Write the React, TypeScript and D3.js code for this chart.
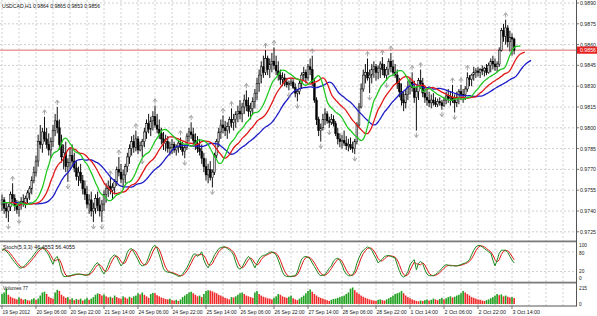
import React from 'react';
import * as d3 from 'd3';

// ---------- DATA (prices in pips, 9745 = 0.9745) ----------
const highs = [
  9752,9750,9746,9745,9754,9760,9752,9748,9747,9750,9752,9751,9755,9758,
  9765,9772,9780,9795,9802,9800,9808,9800,9796,9793,9802,9810,9815,9806,9795,9788,9790,9778,9786,9788,
  9782,9776,9772,9774,9766,9762,9758,9752,9754,9746,9752,9754,9750,9748,9755,9760,9762,
  9764,9760,9763,9772,9779,9774,9770,9774,9782,
  9788,9794,9795,9798,9794,9790,9792,9800,9806,9810,9808,9812,9816,9810,9806,
  9800,9797,9795,9794,9790,9792,9790,9788,9791,9793,9790,9788,9796,9800,9804,9800,9796,9794,
  9792,9788,9782,9778,9774,9776,9770,9782,9792,9800,9806,9809,9805,9804,9808,9814,9810,9812,
  9816,9820,9818,9824,9827,9822,9818,9822,9828,9836,9842,9848,9852,9856,9852,9850,9854,9858,9852,9848,
  9842,9840,9839,9836,9834,9836,9835,9832,9828,9834,9840,9844,9842,9846,9850,9852,9836,9822,9808,9803,
  9810,9814,9812,9808,9810,9809,9805,9800,9796,9795,9798,9794,9792,9793,9790,9792,
  9804,9818,9832,9842,9846,9850,9842,9846,9848,9846,9845,9848,9851,9846,9844,9850,9854,9849,9846,
  9842,9836,9832,9826,9828,9834,9836,9840,9834,9830,9836,9842,9836,9830,9828,
  9826,9824,9825,9822,9821,9822,9820,9822,9826,9828,9826,9831,9824,9826,9828,9831,9828,9830,9840,9838,
  9839,9844,9843,9844,9843,9845,9844,9846,9847,9850,9852,9850,9848,9858,9872,9875,9878,9874,9870,9868,9865,
];
const lows = [
  9740,9738,9735,9732,9740,9746,9740,9738,9736,9741,9743,9742,9745,9748,
  9752,9760,9765,9772,9785,9782,9790,9785,9780,9778,9786,9794,9796,9784,9775,9770,9768,9761,9770,9772,
  9768,9762,9758,9760,9752,9748,9742,9738,9736,9732,9738,9740,9736,9732,9740,9746,9750,
  9752,9748,9752,9758,9765,9760,9756,9760,9768,
  9774,9780,9782,9783,9781,9783,9779,9786,9792,9796,9794,9798,9800,9796,9792,
  9788,9784,9783,9782,9780,9781,9782,9780,9782,9784,9780,9778,9784,9790,9792,9788,9784,9782,
  9780,9774,9768,9762,9760,9762,9757,9766,9778,9786,9792,9796,9794,9792,9796,9800,9798,9800,
  9804,9806,9804,9810,9812,9808,9806,9810,9814,9820,9826,9832,9836,9838,9838,9836,9840,9842,9838,9834,
  9831,9830,9830,9829,9827,9830,9828,9822,9819,9824,9828,9834,9832,9834,9838,9830,9818,9802,9794,9790,
  9798,9802,9803,9800,9802,9801,9794,9788,9786,9785,9787,9784,9783,9784,9782,9781,
  9788,9800,9814,9826,9832,9834,9825,9832,9836,9834,9835,9836,9838,9836,9834,9838,9840,9838,9836,
  9828,9822,9816,9812,9814,9820,9824,9826,9818,9798,9820,9828,9822,9818,9816,
  9815,9814,9816,9815,9815,9816,9813,9815,9817,9818,9816,9818,9811,9815,9817,9820,9818,9820,9826,9830,
  9830,9834,9836,9837,9836,9838,9837,9838,9839,9840,9842,9841,9840,9844,9855,9862,9860,9858,9855,9852,9853,
];
const closes = [
  9748,9742,9740,9743,9752,9749,9744,9741,9745,9747,9746,9749,9753,9756,
  9762,9768,9776,9790,9788,9797,9792,9788,9784,9790,9798,9805,9800,9788,9779,9782,9772,9775,9780,9776,
  9771,9765,9768,9762,9756,9752,9745,9748,9740,9742,9749,9744,9740,9745,9752,9756,9758,
  9755,9757,9761,9770,9768,9763,9766,9772,9779,
  9785,9790,9786,9792,9784,9787,9790,9797,9803,9799,9805,9808,9802,9799,9796,
  9792,9789,9790,9785,9786,9788,9784,9786,9789,9786,9783,9786,9794,9797,9795,9791,9788,9785,
  9783,9778,9772,9766,9770,9764,9768,9780,9790,9797,9802,9800,9798,9801,9806,9804,9806,9810,
  9812,9810,9815,9820,9816,9812,9814,9819,9825,9832,9838,9844,9840,9850,9842,9846,9848,9845,9841,9838,
  9835,9836,9833,9831,9832,9833,9829,9825,9826,9832,9838,9840,9836,9844,9842,9832,9820,9806,9798,9800,
  9806,9810,9805,9804,9806,9803,9796,9792,9790,9791,9789,9787,9788,9786,9785,9790,
  9802,9815,9828,9838,9840,9836,9838,9842,9844,9840,9843,9846,9842,9838,9842,9848,9844,9840,9838,
  9832,9826,9820,9818,9824,9830,9833,9829,9822,9826,9834,9832,9825,9822,9820,
  9818,9820,9818,9817,9819,9818,9816,9820,9823,9821,9822,9820,9818,9822,9826,9824,9824,9828,9836,9835,
  9838,9840,9841,9840,9842,9841,9843,9840,9845,9848,9846,9844,9846,9856,9870,9866,9872,9862,9865,9864,9856,
];
const firstOpen = 9745;

const volumes = [
  130,150,200,120,95,80,70,60,85,70,55,65,50,45,60,75,55,70,
  110,150,160,130,95,80,70,
  150,185,170,120,100,80,90,60,75,50,65,
  55,70,45,60,80,55,70,90,120,140,130,
  110,125,100,85,95,80,110,90,75,70,100,85,70,95,
  80,100,110,140,125,150,120,100,80,130,145,140,115,100,85,
  75,65,60,70,50,45,55,40,60,90,110,130,150,
  160,140,120,100,110,90,130,170,180,175,165,150,
  140,120,110,95,80,70,60,90,85,100,120,140,150,130,110,
  100,90,80,150,170,130,110,95,85,75,70,60,80,100,130,
  120,100,90,80,95,110,75,60,50,70,
  90,110,140,170,190,160,130,110,90,80,70,60,50,40,55,65,70,80,90,100,
  110,130,150,200,215,180,150,130,110,95,80,70,60,50,45,
  40,55,60,50,45,60,75,90,110,130,140,150,170,140,110,
  90,75,60,50,40,35,45,40,50,60,45,55,70,60,50,
  65,80,60,75,90,100,85,95,110,120,140,170,150,130,110,
  90,80,70,60,55,45,40,50,60,75,90,110,130,115,125,100,110,95,85,90,77,
];

const stochMain = [
  85,88,82,75,66,56,48,40,32,30,34,39,47,55,62,71,80,88,91,92,
  87,80,70,55,42,60,66,45,18,5,4,6,7,9,11,12,12,11,10,8,
  9,12,22,32,42,47,35,22,12,25,41,58,66,71,64,50,37,45,58,80,
  88,90,80,68,56,42,37,40,47,64,82,95,100,90,71,50,28,20,18,17,
  15,12,9,5,6,12,22,31,45,58,72,74,66,72,80,55,40,31,45,55,
  71,80,90,93,95,95,90,86,80,70,48,31,27,33,46,58,66,58,45,31,
  45,58,66,69,71,75,79,80,76,71,55,37,18,7,5,4,5,6,7,18,
  40,58,64,66,63,58,46,35,24,12,7,8,10,20,30,37,52,58,61,53,
  40,22,12,7,7,10,22,45,62,76,85,90,95,92,85,72,60,46,52,58,
  66,68,69,66,64,61,40,22,7,3,8,20,40,50,56,25,45,51,44,25,
  12,7,7,7,11,16,22,30,36,41,39,37,38,37,37,39,41,44,46,50,
  56,71,85,95,99,100,95,90,85,80,76,55,37,55,76,85,85,85,78,66,
  55,46,
];

const upFractals = [5,20,26,51,55,63,72,84,89,104,108,115,124,128,146,172,179,183,193,197,212,216,219,237];
const downFractals = [3,8,31,43,47,66,86,99,135,139,150,154,166,173,181,195,207,213];

const priceTicks = [0.9890,0.9875,0.9860,0.9845,0.9830,0.9815,0.9800,0.9785,0.9770,0.9755,0.9740,0.9725];
const dateLabels = ['19 Sep 2012','20 Sep 06:00','20 Sep 22:00','21 Sep 14:00','24 Sep 06:00','24 Sep 22:00','25 Sep 14:00','26 Sep 06:00','26 Sep 22:00','27 Sep 14:00','28 Sep 06:00','28 Sep 22:00','1 Oct 14:00','2 Oct 06:00','2 Oct 22:00','3 Oct 14:00'];
const title = 'USDCAD,H1  0.9864 0.9865 0.9853 0.9856';
const stochTitle = 'Stoch(5,3,3) 46.4553 56.4055';
const volTitle = 'Volumes 77';
const bid = 0.9856;

// ---------- LAYOUT ----------
const W = 597, H = 316;
const AX = 576; // right axis x
const FONT = 'Liberation Sans, Arial, sans-serif';

const x = d3.scaleLinear().domain([0, 240]).range([2, 512]);
const yP = d3.scaleLinear().domain([0.9725, 0.9890]).range([231.8, 3]);
const yS = d3.scaleLinear().domain([0, 100]).range([278, 245.3]);
const yV = d3.scaleLinear().domain([0, 215]).range([304, 287.5]);

function smma(src: number[], n: number) {
  const out: number[] = [];
  let prev = src[0];
  src.forEach((v, i) => {
    prev = i === 0 ? v : (prev * (n - 1) + v) / n;
    out.push(prev);
  });
  return out;
}

function T(props: { x: number; y: number; w: number; fill?: string; children: string }) {
  return (
    <text x={props.x} y={props.y} fontSize={5.6} fill={props.fill || '#222'}
      textLength={props.w} lengthAdjust="spacingAndGlyphs">{props.children}</text>
  );
}

export default function App() {
  const n = closes.length;
  const opens = closes.map((c, i) => (i === 0 ? firstOpen : closes[i - 1]));
  const median = highs.map((h, i) => (h + lows[i]) / 2 / 10000);
  const jaw = smma(median, 13), teeth = smma(median, 8), lips = smma(median, 5);
  const shifted = (s: number[], sh: number) => {
    const pts: [number, number][] = [];
    for (let k = 0; k < n + sh; k++) pts.push([x(k), yP(s[Math.max(0, k - sh)])]);
    return pts;
  };
  const line = d3.line().curve(d3.curveMonotoneX);
  const signal = stochMain.map((v, i) => {
    const a = stochMain.slice(Math.max(0, i - 2), i + 1);
    return d3.mean(a) as number;
  });
  const stochLine = d3.line<number>().x((_, i) => x(i)).y((v) => yS(v));

  const vgrid: number[] = [];
  for (let i = 0; x(i) < AX; i += 8) vgrid.push(x(i));
  const grid = '#c4c4c4';

  return (
    <svg width={W} height={H} style={{ position: 'fixed', left: 0, top: 0, background: '#fff' }} fontFamily={FONT}>
      <rect x={0} y={0} width={W} height={H} fill="#fff" />
      {/* grids */}
      {vgrid.map((gx, i) => (
        <line key={'vg' + i} x1={gx} x2={gx} y1={0} y2={306} stroke={grid} strokeWidth={0.8} strokeDasharray="2,2" />
      ))}
      {priceTicks.map((p) => (
        <line key={'hg' + p} x1={0} x2={AX} y1={yP(p)} y2={yP(p)} stroke={grid} strokeWidth={0.8} strokeDasharray="2,2" />
      ))}
      {[20, 80].map((v) => (
        <line key={'sg' + v} x1={0} x2={AX} y1={yS(v)} y2={yS(v)} stroke={grid} strokeWidth={0.8} strokeDasharray="2,2" />
      ))}
      {/* bid line */}
      <line x1={0} x2={AX} y1={yP(bid)} y2={yP(bid)} stroke="#e06a6a" strokeWidth={1} />

      {/* candles */}
      {closes.map((c, i) => {
        const o = opens[i];
        const hi = Math.max(highs[i], o, c) / 10000, lo = Math.min(lows[i], o, c) / 10000;
        const cx = x(i);
        const top = yP(Math.max(o, c) / 10000), bot = yP(Math.min(o, c) / 10000);
        const bull = c > o;
        return (
          <g key={'c' + i}>
            <line x1={cx} x2={cx} y1={yP(hi)} y2={yP(lo)} stroke="#111" strokeWidth={1} />
            <rect x={cx - 0.9} y={top} width={1.8} height={Math.max(0.7, bot - top)}
              fill={bull ? '#cfcfcf' : '#000'} stroke="#000" strokeWidth={0.5} />
          </g>
        );
      })}

      {/* alligator */}
      <path d={line(shifted(jaw, 8)) || ''} fill="none" stroke="#1c1cc8" strokeWidth={1.3} />
      <path d={line(shifted(teeth, 5)) || ''} fill="none" stroke="#e01818" strokeWidth={1.3} />
      <path d={line(shifted(lips, 3)) || ''} fill="none" stroke="#22c822" strokeWidth={1.3} />

      {/* fractals */}
      {upFractals.map((i) => {
        const fx = x(i), fy = yP(highs[i] / 10000) - 5;
        return (
          <path key={'fu' + i} d={`M${fx - 2},${fy + 1} L${fx},${fy - 2} L${fx + 2},${fy + 1} M${fx},${fy - 1} L${fx},${fy + 3}`}
            fill="none" stroke="#8a8a8a" strokeWidth={0.8} />
        );
      })}
      {downFractals.map((i) => {
        const fx = x(i), fy = yP(lows[i] / 10000) + 5;
        return (
          <path key={'fd' + i} d={`M${fx - 2},${fy - 1} L${fx},${fy + 2} L${fx + 2},${fy - 1} M${fx},${fy + 1} L${fx},${fy - 3}`}
            fill="none" stroke="#8a8a8a" strokeWidth={0.8} />
        );
      })}

      {/* stochastic */}
      <path d={stochLine(signal) || ''} fill="none" stroke="#e01818" strokeWidth={1} />
      <path d={stochLine(stochMain) || ''} fill="none" stroke="#1f8a1f" strokeWidth={1} />

      {/* volumes */}
      {volumes.map((v, i) => {
        const up = i === 0 ? true : v > volumes[i - 1];
        return (
          <rect key={'v' + i} x={x(i) - 0.8} y={yV(v)} width={1.6} height={yV(0) - yV(v)}
            fill={up ? '#1fa01f' : '#ee2a2a'} />
        );
      })}

      {/* panel separators and axes */}
      <rect x={0} y={240.5} width={AX} height={1.8} fill="#7a7a7a" />
      <rect x={0} y={281.7} width={AX} height={1.8} fill="#7a7a7a" />
      <line x1={AX + 0.5} x2={AX + 0.5} y1={0} y2={306.5} stroke="#555" strokeWidth={1} />
      <line x1={0} x2={AX + 0.5} y1={306} y2={306} stroke="#555" strokeWidth={1} />

      {/* price axis labels */}
      {priceTicks.map((p) => (
        <g key={'pl' + p}>
          <line x1={AX} x2={AX + 3} y1={yP(p)} y2={yP(p)} stroke="#555" strokeWidth={0.8} />
          <T x={580} y={yP(p) + 2} w={16}>{p.toFixed(4)}</T>
        </g>
      ))}
      <rect x={577} y={yP(bid) - 3.6} width={20} height={7.2} fill="#e82020" />
      <T x={580} y={yP(bid) + 2} w={16} fill="#fff">{bid.toFixed(4)}</T>

      {/* sub-panel labels */}
      <T x={579} y={yS(100) + 2} w={8}>100</T>
      <T x={579} y={yS(80) + 3} w={5.3}>80</T>
      <T x={579} y={yS(20) + 2} w={5.3}>20</T>
      <T x={579} y={yS(0) + 2} w={2.7}>0</T>
      <T x={579} y={yV(215) + 2} w={8}>215</T>
      <T x={579} y={yV(0) + 2} w={2.7}>0</T>

      {/* date labels */}
      {dateLabels.map((t, k) => (
        <g key={'dl' + k}>
          <line x1={x(16 * k)} x2={x(16 * k)} y1={306} y2={309} stroke="#555" strokeWidth={0.8} />
          <T x={x(16 * k) + 0.5} y={314} w={t.length * 2.5}>{t}</T>
        </g>
      ))}

      {/* titles */}
      <T x={2} y={7.5} w={98} fill="#111">{title}</T>
      <T x={3} y={249} w={72} fill="#111">{stochTitle}</T>
      <T x={3} y={289.5} w={25} fill="#111">{volTitle}</T>
    </svg>
  );
}
